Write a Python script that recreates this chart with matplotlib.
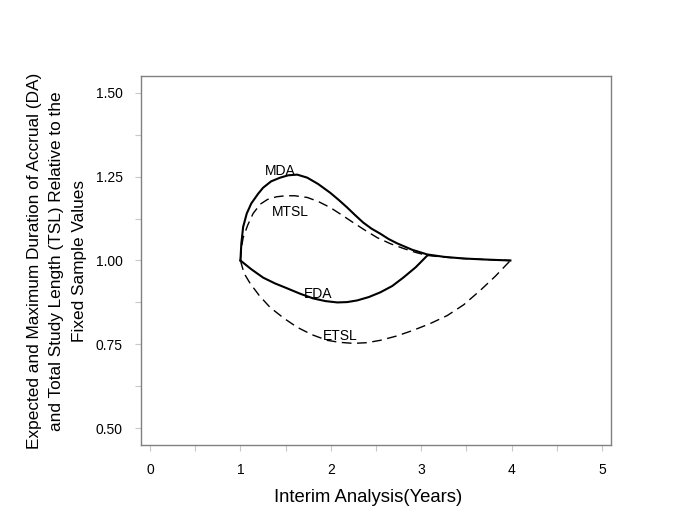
import matplotlib
matplotlib.use("Agg")
import matplotlib.pyplot as plt
from matplotlib.ticker import MultipleLocator

plt.rcParams['font.family'] = ['Liberation Sans', 'DejaVu Sans']

# Data
mda_x = [1.0, 1.01, 1.03, 1.07, 1.12, 1.196, 1.251, 1.34, 1.44, 1.53, 1.628, 1.739, 1.86, 1.993, 2.09, 2.181, 2.27, 2.359, 2.45, 2.547, 2.64, 2.735, 2.90, 3.068, 3.25, 3.466, 3.70, 3.987]
mda_y = [1.0, 1.05, 1.10, 1.14, 1.17, 1.199, 1.217, 1.236, 1.247, 1.254, 1.256, 1.247, 1.228, 1.202, 1.180, 1.158, 1.135, 1.113, 1.095, 1.080, 1.064, 1.051, 1.032, 1.018, 1.011, 1.006, 1.003, 1.0]

mtsl_x = [1.0, 1.01, 1.03, 1.08, 1.14, 1.22, 1.30, 1.40, 1.50, 1.60, 1.739, 1.86, 1.993, 2.12, 2.248, 2.38, 2.514, 2.66, 2.802, 2.94, 3.068, 3.25, 3.466, 3.70, 3.987]
mtsl_y = [1.0, 1.035, 1.068, 1.105, 1.140, 1.168, 1.182, 1.190, 1.193, 1.193, 1.188, 1.176, 1.158, 1.136, 1.113, 1.090, 1.068, 1.050, 1.036, 1.024, 1.015, 1.010, 1.006, 1.003, 1.0]

eda_x = [1.0, 1.12, 1.251, 1.38, 1.517, 1.66, 1.805, 1.94, 2.071, 2.18, 2.292, 2.42, 2.547, 2.68, 2.802, 2.94, 3.068]
eda_y = [1.0, 0.974, 0.949, 0.932, 0.917, 0.901, 0.887, 0.879, 0.875, 0.876, 0.881, 0.891, 0.905, 0.924, 0.949, 0.980, 1.015]

etsl_x = [1.0, 1.04, 1.107, 1.21, 1.329, 1.48, 1.628, 1.79, 1.960, 2.10, 2.248, 2.40, 2.547, 2.73, 2.912, 3.10, 3.289, 3.47, 3.654, 3.82, 3.987]
etsl_y = [1.0, 0.962, 0.932, 0.895, 0.860, 0.828, 0.801, 0.779, 0.762, 0.756, 0.753, 0.755, 0.762, 0.775, 0.792, 0.812, 0.836, 0.868, 0.911, 0.953, 1.0]

labels = ["MDA", "MTSL", "EDA", "ETSL"]
label_x = [1.44, 1.55, 1.865, 2.11]
label_y = [1.268, 1.146, 0.899, 0.774]

xticks = [0, 1, 2, 3, 4, 5]
yticks = [0.50, 0.75, 1.00, 1.25, 1.50]
ytick_labels = ["0.50", "0.75", "1.00", "1.25", "1.50"]

fig = plt.figure(figsize=(6.85, 5.28), dpi=100)
ax = fig.add_axes([141/685, 1-445/528, (611-141)/685, (445-76)/528])

ax.plot(mda_x, mda_y, color='black', lw=1.5, solid_joinstyle='round')
ax.plot(mtsl_x, mtsl_y, color='black', lw=1.0, dashes=(7, 4))
ax.plot(eda_x, eda_y, color='black', lw=1.5, solid_joinstyle='round')
ax.plot(etsl_x, etsl_y, color='black', lw=1.0, dashes=(7, 4))

for t, x, y in zip(labels, label_x, label_y):
    ax.text(x, y, t, fontsize=10, ha='center', va='center')

ax.set_xlim(-0.1, 5.1)
ax.set_ylim(0.45, 1.55)
ax.set_xticks(xticks)
ax.set_yticks(yticks)
ax.set_yticklabels(ytick_labels)
ax.xaxis.set_minor_locator(MultipleLocator(0.5))
ax.yaxis.set_minor_locator(MultipleLocator(0.125))
ax.tick_params(which='both', direction='out', length=4, color='#c8c8c8', width=0.8)
ax.tick_params(axis='x', which='major', pad=9, labelsize=10)
ax.tick_params(axis='y', which='major', pad=9, labelsize=10)
for s in ax.spines.values():
    s.set_color('#808080')
    s.set_linewidth(1.0)

fig.text(368/685, 1-497/528, "Interim Analysis(Years)", fontsize=13.3, ha='center', va='center')
fig.text(57/685, 1-261/528,
         "Expected and Maximum Duration of Accrual (DA)\nand Total Study Length (TSL) Relative to the\nFixed Sample Values",
         fontsize=12.4, ha='center', va='center', rotation=90, multialignment='center', linespacing=1.65)

fig.savefig("out.png", dpi=100)
